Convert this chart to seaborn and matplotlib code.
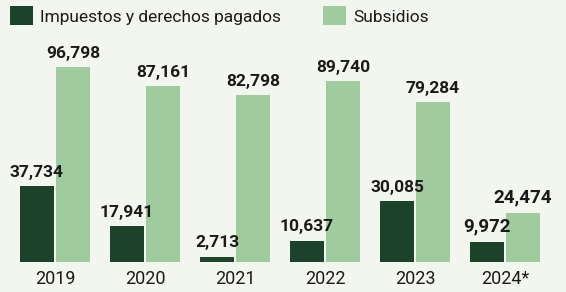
import matplotlib
matplotlib.use("Agg")
import matplotlib.pyplot as plt
import seaborn as sns
import pandas as pd
from matplotlib.patches import Patch

years = ["2019", "2020", "2021", "2022", "2023", "2024*"]
impuestos = [37734, 17941, 2713, 10637, 30085, 9972]
subsidios = [96798, 87161, 82798, 89740, 79284, 24474]
series = ["Impuestos y derechos pagados", "Subsidios"]
colors = ["#1c4329", "#a0cb9f"]

df = pd.DataFrame({
    "year": years * 2,
    "value": impuestos + subsidios,
    "serie": [series[0]] * len(years) + [series[1]] * len(years),
})

sns.set_theme(style="white")
plt.rcParams["font.family"] = ["Roboto", "DejaVu Sans"]

bg = "#f3f6ef"
fig = plt.figure(figsize=(5.66, 2.92), dpi=100, facecolor=bg)
ax = fig.add_axes([0, 30 / 292, 1, 262 / 292])
ax.set_facecolor(bg)

sns.barplot(data=df, x="year", y="value", hue="serie", hue_order=series,
            palette=colors, width=0.8, gap=0.05, ax=ax, legend=False,
            saturation=1, linewidth=0)

for i, cont in enumerate(ax.containers):
    labels = [f"{v:,.0f}" for v in cont.datavalues]
    for j, (bar, lab) in enumerate(zip(cont, labels)):
        big = (j == len(years) - 1)
        ax.annotate(lab, (bar.get_x() + bar.get_width() / 2, bar.get_height()),
                    xytext=(0, 4.5), textcoords="offset points",
                    ha="center", va="bottom",
                    fontsize=13.5 if big else 12.5, fontweight="bold",
                    color="#1a1a1a")

ax.set_xlim(-0.611, 5.678)
ax.set_ylim(0, 130083)
ax.set_xlabel("")
ax.set_ylabel("")
ax.set_yticks([])
ax.tick_params(axis="x", length=0, pad=6, labelsize=13, labelcolor="#1a1a1a")
for s in ax.spines.values():
    s.set_visible(False)

handles = [Patch(facecolor=c, linewidth=0) for c in colors]
fig.legend(handles, series, loc="upper left", bbox_to_anchor=(10 / 566, 1 - 6 / 292),
           ncol=2, frameon=False, fontsize=12.5, handlelength=1.35, handleheight=1.35,
           handletextpad=0.4, columnspacing=2.4, borderpad=0, borderaxespad=0,
           labelcolor="#1a1a1a")

fig.savefig("out.png", dpi=100, facecolor=bg)
